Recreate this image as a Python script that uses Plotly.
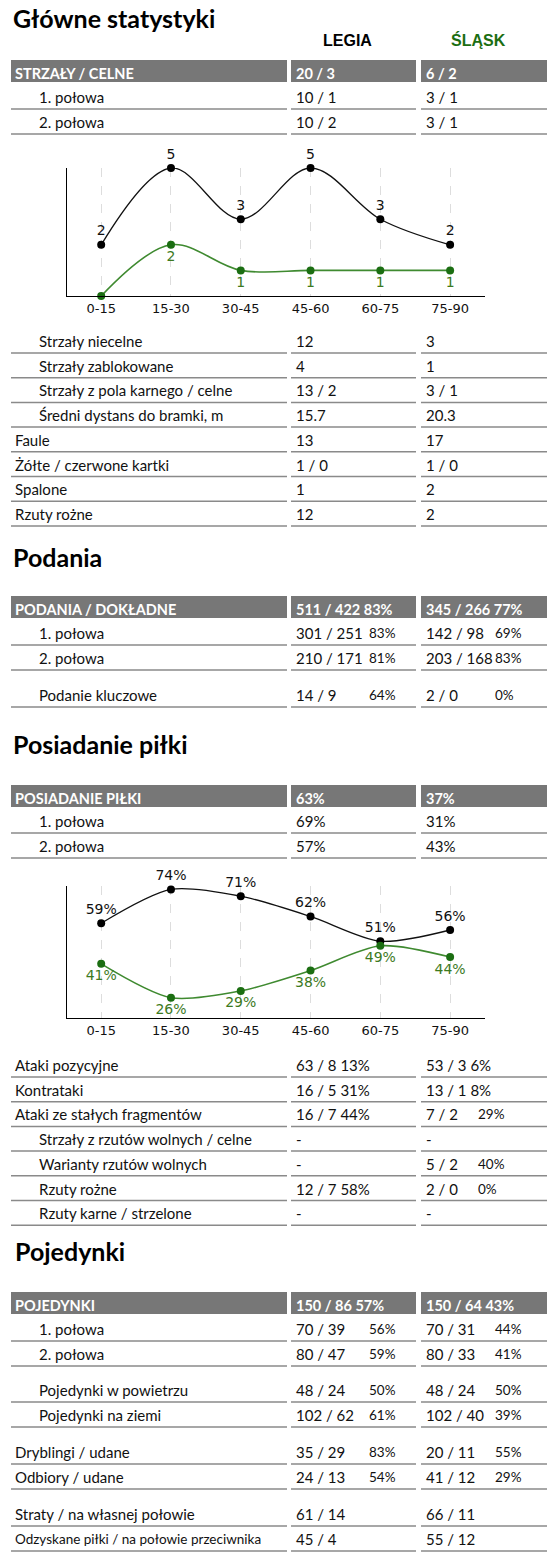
import plotly.graph_objects as go

W, H = 549, 1555
OFF = 8
periods = ["0-15", "15-30", "30-45", "45-60", "60-75", "75-90"]
shots_legia = [2, 5, 3, 5, 3, 2]
shots_slask = [0, 2, 1, 1, 1, 1]
poss_legia = [59, 74, 71, 62, 51, 56]
poss_slask = [41, 26, 29, 38, 49, 44]

team_home = "LEGIA"
team_away = "ŚLĄSK"

# section 1
s1_head = ["STRZAŁY / CELNE", "20 / 3", "6 / 2"]
s1_labels = ["1. połowa", "2. połowa"]
s1_legia = ["10 / 1", "10 / 2"]
s1_slask = ["3 / 1", "3 / 1"]
s1b_labels = ["Strzały niecelne", "Strzały zablokowane", "Strzały z pola karnego / celne",
              "Średni dystans do bramki, m", "Faule", "Żółte / czerwone kartki", "Spalone", "Rzuty rożne"]
s1b_legia = ["12", "4", "13 / 2", "15.7", "13", "1 / 0", "1", "12"]
s1b_slask = ["3", "1", "3 / 1", "20.3", "17", "1 / 0", "2", "2"]
s1b_indent = [1, 1, 1, 1, 0, 0, 0, 0]

# section 2
s2_head = ["PODANIA / DOKŁADNE", "511 / 422 83%", "345 / 266 77%"]
s2_labels = ["1. połowa", "2. połowa", "Podanie kluczowe"]
s2_legia = ["301 / 251", "210 / 171", "14 / 9"]
s2_legia_pct = ["83%", "81%", "64%"]
s2_slask = ["142 / 98", "203 / 168", "2 / 0"]
s2_slask_pct = ["69%", "83%", "0%"]

# section 3
s3_head = ["POSIADANIE PIŁKI", "63%", "37%"]
s3_labels = ["1. połowa", "2. połowa"]
s3_legia = ["69%", "57%"]
s3_slask = ["31%", "43%"]
s3b_labels = ["Ataki pozycyjne", "Kontrataki", "Ataki ze stałych fragmentów",
              "Strzały z rzutów wolnych / celne", "Warianty rzutów wolnych", "Rzuty rożne", "Rzuty karne / strzelone"]
s3b_legia = ["63 / 8 13%", "16 / 5 31%", "16 / 7 44%", "-", "-", "12 / 7 58%", "-"]
s3b_slask = ["53 / 3 6%", "13 / 1 8%", "7 / 2", "-", "5 / 2", "2 / 0", "-"]
s3b_slask_pct = ["", "", "29%", "", "40%", "0%", ""]
s3b_indent = [0, 0, 0, 1, 1, 1, 1]

# section 4
s4_head = ["POJEDYNKI", "150 / 86 57%", "150 / 64 43%"]
s4_labels = ["1. połowa", "2. połowa", "Pojedynki w powietrzu", "Pojedynki na ziemi",
             "Dryblingi / udane", "Odbiory / udane", "Straty / na własnej połowie",
             "Odzyskane piłki / na połowie przeciwnika"]
s4_legia = ["70 / 39", "80 / 47", "48 / 24", "102 / 62", "35 / 29", "24 / 13", "61 / 14", "45 / 4"]
s4_legia_pct = ["56%", "59%", "50%", "61%", "83%", "54%", "", ""]
s4_slask = ["70 / 31", "80 / 33", "48 / 24", "102 / 40", "20 / 11", "41 / 12", "66 / 11", "55 / 12"]
s4_slask_pct = ["44%", "41%", "50%", "39%", "55%", "29%", "", ""]
s4_indent = [2, 2, 1, 1, 0, 0, 0, 0]

GREEN = "#1b6e12"
FONT = "Lato"
ann, shapes = [], []


def X(px):
    return (px - OFF) / W


def Y(py):
    return 1 - (py - OFF) / H


def text(x, y, s, size=15, color="#111", bold=False, anchor="left", family=FONT):
    if bold:
        s = "<b>" + s + "</b>"
    ann.append(dict(x=X(x), y=Y(y), xref="paper", yref="paper", text=s, showarrow=False,
                    xanchor=anchor, yanchor="middle", font=dict(size=size, color=color, family=family)))


COLS = [(11, 287), (291, 416), (421, 547)]


def header(y, vals):
    for (a, b), v in zip(COLS, vals):
        shapes.append(dict(type="rect", xref="paper", yref="paper", x0=X(a), x1=X(b),
                           y0=Y(y + 11), y1=Y(y - 11), fillcolor="#777777", line_width=0))
    text(13, y + 2, vals[0], 14.5, "white", True)
    text(294, y + 2, vals[1], 14.5, "white", True)
    text(424, y + 2, vals[2], 14.5, "white", True)


def row(y, label, lv, sv, indent=0, lp="", sp="", lpx=367, spx=493, lsize=15):
    ix = [13, 37, 37][indent]
    text(ix, y, label, lsize)
    text(294, y, lv, 15)
    text(424, y, sv, 15)
    if lp:
        text(lpx, y, lp, 13.5)
    if sp:
        text(spx, y, sp, 13.5)
    for a, b in COLS:
        shapes.append(dict(type="line", xref="paper", yref="paper", x0=X(a), x1=X(b),
                           y0=Y(y + 12), y1=Y(y + 12), line=dict(color="#8a8a8a", width=1.5)))


# Section 1
text(11, 18, "Główne statystyki", 25, "#000", True)
text(347, 40, team_home, 16, "#000", True, "center", "Liberation Sans")
text(478, 40, team_away, 16, GREEN, True, "center", "Liberation Sans")
header(71, s1_head)
for i, (l, a, b) in enumerate(zip(s1_labels, s1_legia, s1_slask)):
    row(97 + 25 * i, l, a, b, 2)
for i, (l, a, b, ind) in enumerate(zip(s1b_labels, s1b_legia, s1b_slask, s1b_indent)):
    row(341 + 24.7 * i, l, a, b, ind)

# Section 2
text(11, 557, "Podania", 25, "#000", True)
header(607, s2_head)
ys2 = [633, 658, 695]
for i, l in enumerate(s2_labels):
    row(ys2[i], l, s2_legia[i], s2_slask[i], 2 if i < 2 else 1, s2_legia_pct[i], s2_slask_pct[i])

# Section 3
text(11, 744, "Posiadanie piłki", 25, "#000", True)
header(796, s3_head)
for i, l in enumerate(s3_labels):
    row(821 + 25 * i, l, s3_legia[i], s3_slask[i], 2)
for i, l in enumerate(s3b_labels):
    row(1065 + 24.7 * i, l, s3b_legia[i], s3b_slask[i], s3b_indent[i], "", s3b_slask_pct[i], spx=476)

# Section 4
text(13, 1251, "Pojedynki", 25, "#000", True)
header(1303, s4_head)
ys4 = [1329, 1354, 1390, 1415, 1452, 1477, 1514, 1539]
for i, l in enumerate(s4_labels):
    row(ys4[i], l, s4_legia[i], s4_slask[i], s4_indent[i], s4_legia_pct[i], s4_slask_pct[i],
        lsize=13.5 if i == 7 else 15)

fig = go.Figure()
TF = dict(family="DejaVu Sans", size=14)
fig.add_trace(go.Scatter(x=periods, y=shots_legia, mode="lines+markers+text", text=[str(v) for v in shots_legia],
                         textposition="top center", textfont=dict(TF, color="#111"),
                         line=dict(color="#111", width=1.3, shape="spline", smoothing=1),
                         marker=dict(color="#000", size=8), xaxis="x", yaxis="y", cliponaxis=False))
fig.add_trace(go.Scatter(x=periods, y=shots_slask, mode="lines+markers+text",
                         text=[str(v) if v else "" for v in shots_slask],
                         textposition="bottom center", textfont=dict(TF, color="#3d7a1e"),
                         line=dict(color="#3f8a30", width=1.6, shape="spline", smoothing=1),
                         marker=dict(color=GREEN, size=8), xaxis="x", yaxis="y", cliponaxis=False))
fig.add_trace(go.Scatter(x=periods, y=poss_legia, mode="lines+markers+text", text=[f"{v}%" for v in poss_legia],
                         textposition="top center", textfont=dict(TF, color="#111"),
                         line=dict(color="#111", width=1.3, shape="spline", smoothing=0.8),
                         marker=dict(color="#000", size=8), xaxis="x2", yaxis="y2", cliponaxis=False))
fig.add_trace(go.Scatter(x=periods, y=poss_slask, mode="lines+markers+text", text=[f"{v}%" for v in poss_slask],
                         textposition="bottom center", textfont=dict(TF, color="#3d7a1e"),
                         line=dict(color="#3f8a30", width=1.6, shape="spline", smoothing=0.8),
                         marker=dict(color=GREEN, size=8), xaxis="x2", yaxis="y2", cliponaxis=False))

xa = dict(range=[-0.49, 5.5], showgrid=True, gridcolor="#dddddd", griddash="dash", showline=True,
          linecolor="#000", linewidth=1.3, ticks="", tickfont=dict(family="DejaVu Sans", size=13, color="#111"),
          zeroline=False, fixedrange=True)
ya = dict(showgrid=False, showline=True, linecolor="#000", linewidth=1.3, showticklabels=False,
          ticks="", zeroline=False, fixedrange=True)
fig.update_layout(
    width=W, height=H, margin=dict(l=0, r=0, t=0, b=0), paper_bgcolor="white", plot_bgcolor="white",
    showlegend=False, annotations=ann, shapes=shapes,
    xaxis=dict(xa, domain=[X(67), X(485)], anchor="y"),
    yaxis=dict(ya, domain=[Y(296), Y(168)], range=[0, 5], anchor="x"),
    xaxis2=dict(xa, domain=[X(67), X(485)], anchor="y2"),
    yaxis2=dict(ya, domain=[Y(1018), Y(886)], range=[17, 75.5], anchor="x2"),
)
fig.write_html("out.html")
